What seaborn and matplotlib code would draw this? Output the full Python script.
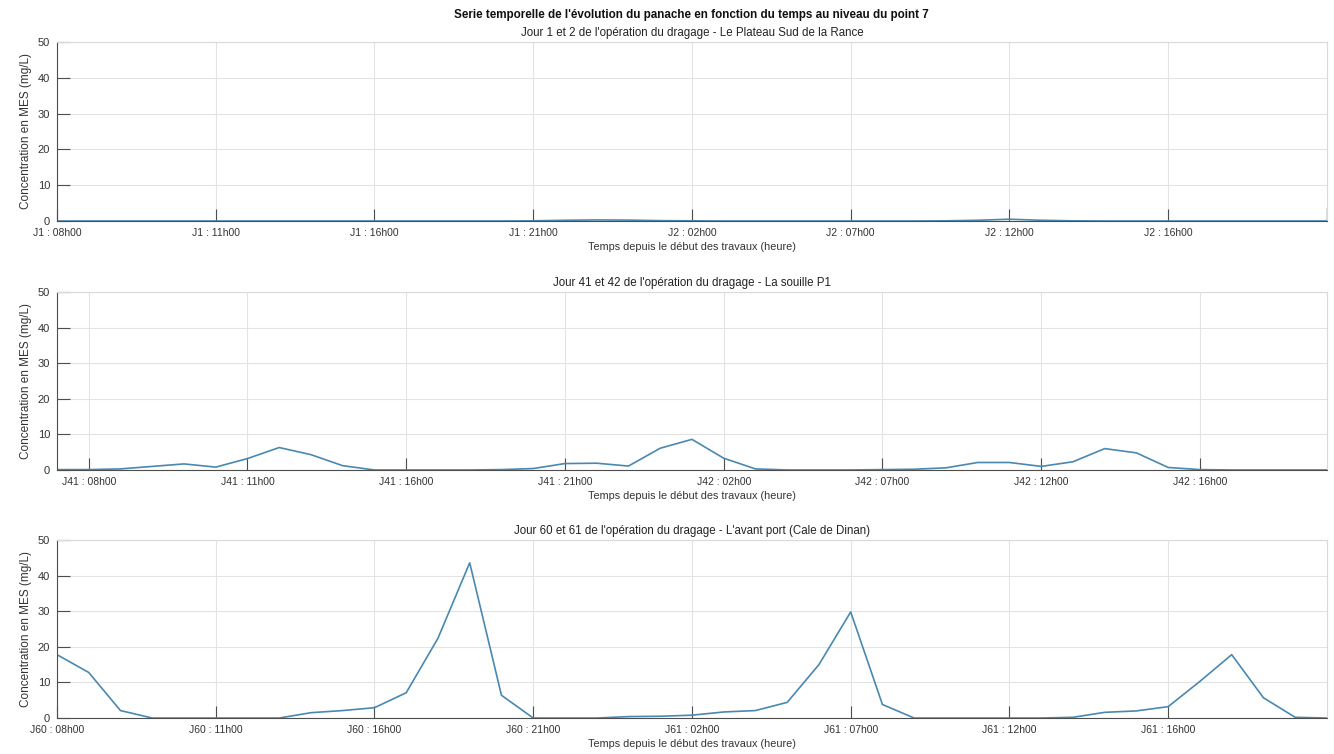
import matplotlib
matplotlib.use("Agg")
import matplotlib.pyplot as plt
import numpy as np
import pandas as pd
import seaborn as sns

# pas de temps (indice de l'echantillon)
steps = list(range(41))

conc_j1 = [0.0, 0.0, 0.0, 0.0, 0.0, 0.0, 0.0, 0.0, 0.0, 0.0,
           0.0, 0.0, 0.0, 0.0, 0.0, 0.05, 0.2, 0.3, 0.25, 0.1,
           0.05, 0.0, 0.0, 0.0, 0.0, 0.0, 0.0, 0.0, 0.05, 0.2,
           0.5, 0.2, 0.05, 0.0, 0.0, 0.0, 0.0, 0.0, 0.0, 0.0, 0.0]

conc_j41 = [0.1, 0.1, 0.3, 1.0, 1.7, 0.8, 3.2, 6.3, 4.3, 1.2,
            0.0, 0.0, 0.0, 0.0, 0.1, 0.4, 1.8, 1.9, 1.1, 6.1,
            8.6, 3.3, 0.3, 0.0, 0.0, 0.0, 0.1, 0.2, 0.6, 2.1,
            2.1, 1.0, 2.3, 6.0, 4.8, 0.7, 0.1, 0.0, 0.0, 0.0, 0.0]

conc_j60 = [17.8, 12.8, 2.1, 0.0, 0.0, 0.0, 0.0, 0.0, 1.5, 2.1,
            2.9, 7.1, 22.4, 43.6, 6.4, 0.0, 0.0, 0.0, 0.4, 0.5,
            0.8, 1.7, 2.1, 4.4, 15.0, 29.8, 3.8, 0.0, 0.0, 0.0,
            0.0, 0.0, 0.2, 1.6, 2.0, 3.2, 10.3, 17.8, 5.7, 0.2, 0.0]

ticks_j1 = [0, 5, 10, 15, 20, 25, 30, 35]
labels_j1 = ["J1 : 08h00", "J1 : 11h00", "J1 : 16h00", "J1 : 21h00",
             "J2 : 02h00", "J2 : 07h00", "J2 : 12h00", "J2 : 16h00"]
ticks_j41 = [1, 6, 11, 16, 21, 26, 31, 36]
labels_j41 = ["J41 : 08h00", "J41 : 11h00", "J41 : 16h00", "J41 : 21h00",
              "J42 : 02h00", "J42 : 07h00", "J42 : 12h00", "J42 : 16h00"]
ticks_j60 = [0, 5, 10, 15, 20, 25, 30, 35]
labels_j60 = ["J60 : 08h00", "J60 : 11h00", "J60 : 16h00", "J60 : 21h00",
              "J61 : 02h00", "J61 : 07h00", "J61 : 12h00", "J61 : 16h00"]

titles = ["Jour 1 et 2 de l'opération du dragage - Le Plateau Sud de la Rance",
          "Jour 41 et 42 de l'opération du dragage - La souille P1",
          "Jour 60 et 61 de l'opération du dragage - L'avant port (Cale de Dinan)"]

sns.set_theme(style="whitegrid")
plt.rcParams['font.family'] = ['Liberation Sans', 'DejaVu Sans']

fig = plt.figure(figsize=(13.34, 7.54), dpi=100)
positions = [[0.0427, 0.7069, 0.952, 0.2374],
             [0.0427, 0.3767, 0.952, 0.2361],
             [0.0427, 0.0477, 0.952, 0.2361]]

series = [conc_j1, conc_j41, conc_j60]
all_ticks = [ticks_j1, ticks_j41, ticks_j60]
all_labels = [labels_j1, labels_j41, labels_j60]
line_col = "#4a88b0"
axis_col = "#4d4d4d"

for i in range(3):
    ax = fig.add_axes(positions[i])
    df = pd.DataFrame({"t": steps, "c": series[i]})
    sns.lineplot(data=df, x="t", y="c", ax=ax, color=line_col, linewidth=1.2)
    ax.set_xlim(0, 40)
    ax.set_ylim(0, 50)
    ax.set_yticks([0, 10, 20, 30, 40, 50])
    ax.set_xticks(all_ticks[i])
    ax.set_xticklabels(all_labels[i])
    ax.grid(True, color="#e3e3e3", linewidth=0.8)
    ax.tick_params(axis="both", direction="in", length=9, width=0.8,
                   bottom=True, left=True, color=axis_col,
                   labelsize=7.5, labelcolor="#333333", pad=5)
    ax.tick_params(axis="y", labelsize=8)
    for s in ["left", "bottom"]:
        ax.spines[s].set_color(axis_col)
        ax.spines[s].set_linewidth(0.8)
    for s in ["top", "right"]:
        ax.spines[s].set_color("#d9d9d9")
        ax.spines[s].set_linewidth(0.8)
    ax.set_xlabel("Temps depuis le début des travaux (heure)", fontsize=7.8,
                  color="#333333", labelpad=3)
    ax.set_ylabel("Concentration en MES (mg/L)", fontsize=8.5, color="#333333",
                  labelpad=4)
    ax.set_title(titles[i], fontsize=8.3, color="#222222", pad=4)
    if i == 0:
        ax.axvline(40, ymin=0, ymax=0.07, color=axis_col, linewidth=1.0)

fig.text(0.518, 0.980, "Serie temporelle de l'évolution du panache en fonction du temps au niveau du point 7",
         ha="center", va="center", fontsize=8.4, fontweight="bold", color="#111111")

fig.savefig("out.png", dpi=100)
